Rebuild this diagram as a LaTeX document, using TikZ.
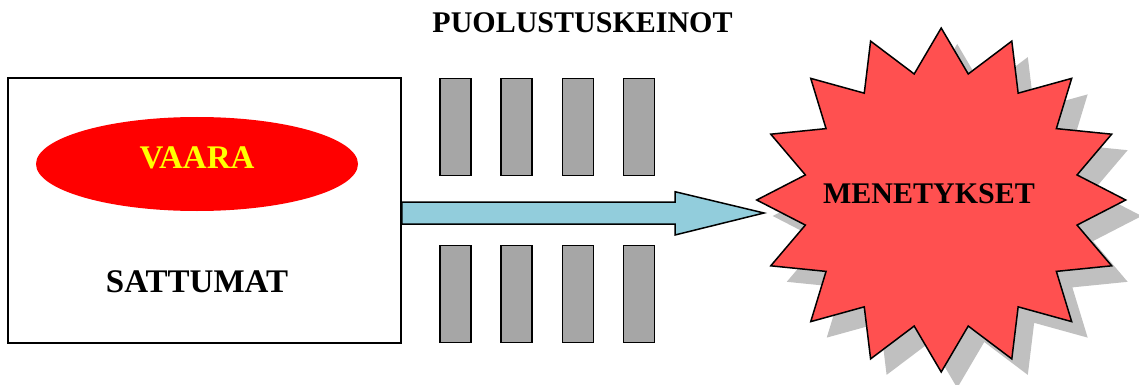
\documentclass[tikz,border=0pt]{standalone}
\usepackage{fontspec}
\setmainfont{Liberation Serif}
\usetikzlibrary{calc}
\definecolor{dangerred}{HTML}{FF0000}
\definecolor{dangertext}{HTML}{FFFF00}
\definecolor{lossred}{HTML}{FF5050}
\definecolor{shadowgray}{HTML}{C0C0C0}
\definecolor{bargray}{HTML}{A6A6A6}
\definecolor{flowblue}{HTML}{92CDDC}
\tikzset{
  bigtext/.style={font=\bfseries\fontsize{30}{36}\selectfont, inner sep=0pt, anchor=base},
  boxtext/.style={font=\bfseries\fontsize{33}{40}\selectfont, inner sep=0pt, anchor=base},
  framebox/.style={draw=black, line width=1.6pt, fill=white, minimum width=393pt, minimum height=265pt, inner sep=0pt},
  barrier/.style={draw=black, line width=1.5pt, fill=bargray, minimum width=31pt, minimum height=97pt, inner sep=0pt},
  flowarrow/.style={draw=black, line width=1.5pt, fill=flowblue, line join=miter},
  burst/.style={draw=black, line width=1.5pt, fill=lossred, line join=miter},
  burstshadow/.style={fill=shadowgray}
}
\begin{document}
\begin{tikzpicture}[x=1pt, y=-1pt]
  \useasboundingbox (0,0) rectangle (1139,385);

  % title over the barriers
  \node[bigtext] (title) at (582.5,33) {PUOLUSTUSKEINOT};

  % source box with the hazard ellipse
  \node[framebox] (box) at (204.5,210.5) {};
  \fill[dangerred] (197,164) ellipse [x radius=161, y radius=47];
  \node[boxtext, text=dangertext] (vaara) at (197,168) {VAARA};
  \node[boxtext] (sattumat) at (197,292) {SATTUMAT};

  % two rows of barriers
  \foreach \i in {0,...,3}{
    \node[barrier] (up\i) at ({455.5+61.2*\i},127) {};
    \node[barrier] (down\i) at ({455.5+61.2*\i},294.2) {};
  }

  % burst: shadow first, then the star itself
  \coordinate (burstc) at (941.2,200);
  \begin{scope}[shift={(957.2,216)}]
    \fill[burstshadow] (90:184.5 and 172)
      \foreach \k in {0,...,15}{
        -- ({90-22.5*\k-11.25}:138.5 and 128.5)
        -- ({90-22.5*\k-22.5}:184.5 and 172)
      } -- cycle;
  \end{scope}

  % block arrow from the box towards the burst
  \coordinate (tail) at (box.east |- 0,213);
  \coordinate (tip) at (764,213);
  \draw[flowarrow] ($(tail)+(0,-11)$) -- (675,202) -- (675,191.7) -- (tip)
    -- (675,235) -- (675,224) -- ($(tail)+(0,11)$) -- cycle;

  \begin{scope}[shift={(burstc)}]
    \draw[burst] (90:184.5 and 172)
      \foreach \k in {0,...,15}{
        -- ({90-22.5*\k-11.25}:138.5 and 128.5)
        -- ({90-22.5*\k-22.5}:184.5 and 172)
      } -- cycle;
  \end{scope}
  \node[bigtext] (menetykset) at (929,203) {MENETYKSET};
\end{tikzpicture}
\end{document}
